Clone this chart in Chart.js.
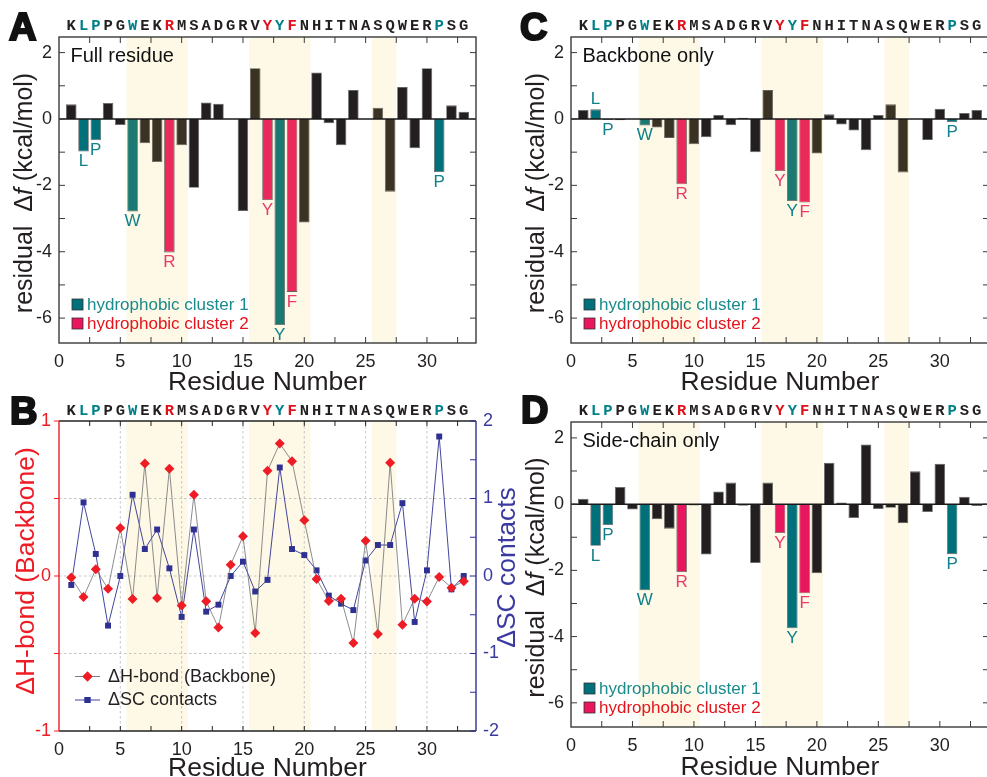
<!DOCTYPE html>
<html><head><meta charset="utf-8">
<script src="https://cdn.jsdelivr.net/npm/chart.js@4"></script>
<style>
html,body{margin:0;padding:0;background:#fff;overflow:hidden;}
#wrap{position:relative;width:987px;height:777px;overflow:hidden;background:#fff;}
canvas{position:absolute;left:0;top:0;}
</style></head><body>
<div id="wrap">
<canvas id="cA" width="1000" height="777"></canvas>
<canvas id="cB" width="1000" height="777"></canvas>
<canvas id="cC" width="1000" height="777"></canvas>
<canvas id="cD" width="1000" height="777"></canvas>
</div>
<script>
// ---------------- DATA ----------------
const residues = [1,2,3,4,5,6,7,8,9,10,11,12,13,14,15,16,17,18,19,20,21,22,23,24,25,26,27,28,29,30,31,32,33];
const sequence = ['K','L','P','P','G','W','E','K','R','M','S','A','D','G','R','V','Y','Y','F','N','H','I','T','N','A','S','Q','W','E','R','P','S','G'];
const cluster1 = [2,3,6,18,31];
const cluster2 = [9,17,19];
const shadedRegions = [[5.5,10.5],[15.5,20.5],[25.5,27.5]];
const fullResidue = [0.44,-0.98,-0.64,0.48,-0.18,-2.79,-0.73,-1.30,-4.02,-0.79,-2.07,0.50,0.46,null,-2.77,1.53,-2.44,-6.21,-5.21,-3.12,1.40,-0.13,-0.79,0.87,null,0.34,-2.19,0.96,-0.88,1.53,-1.60,0.41,0.22];
const backboneOnly = [0.27,0.29,-0.03,-0.04,null,-0.20,-0.26,-0.57,-1.97,-0.76,-0.55,0.12,-0.19,0.04,-1.00,0.87,-1.57,-2.47,-2.52,-1.04,0.14,-0.17,-0.35,-0.94,0.12,0.44,-1.61,null,-0.63,0.31,-0.09,0.18,0.27];
const sideChainOnly = [0.16,-1.26,-0.63,0.52,-0.16,-2.60,-0.46,-0.74,-2.05,-0.04,-1.52,0.38,0.65,-0.05,-1.78,0.65,-0.87,-3.75,-2.69,-2.09,1.25,0.05,-0.42,1.80,-0.15,-0.11,-0.58,0.99,-0.24,1.22,-1.51,0.22,-0.06];
const hbondBackbone = [-0.01,-0.135,0.043,-0.082,0.31,-0.148,0.726,-0.142,0.692,-0.19,0.524,-0.163,-0.333,0.073,0.256,-0.367,0.679,0.855,0.741,0.359,-0.019,-0.161,-0.146,-0.432,0.228,-0.374,0.730,-0.314,-0.146,-0.165,-0.006,-0.075,-0.034];
const scContacts = [-0.116,0.95,0.284,-0.64,0,1.048,0.348,0.60,0.099,-0.528,0.60,-0.46,-0.37,0,0.185,-0.20,-0.05,1.40,0.348,0.27,0.073,-0.253,-0.357,-0.44,0.20,0.40,0.40,0.94,-0.593,0.073,1.80,-0.172,0];
const xTickLabels = [0,5,10,15,20,25,30];
const dfTickLabels = [2,0,-2,-4,-6];
const hbondTickLabels = [1,0,-1];
const scTickLabels = [2,1,0,-1,-2];
const legendLabels = ['hydrophobic cluster 1','hydrophobic cluster 2'];
const lineLegendLabels = ['\u0394H-bond (Backbone)','\u0394SC contacts'];

// ---------------- STYLE / LAYOUT ----------------
const W = 1000, H = 777;
const FONT = "'Liberation Sans', Arial, Helvetica, sans-serif";
const MONO = "'Liberation Mono', 'Courier New', monospace";
const C = {
  black:'#231f20', olive:'#3a3223', teal:'#00707b', tealS:'#1b7971', pink:'#e8175d', pinkS:'#e92a5a',
  cream:'#fef8e6', tealTxt:'#10808a', pinkTxt:'#ea3a6b', legTeal:'#1a8a8c', legRed:'#e3141c',
  seqTeal:'#00808a', seqRed:'#e0101a', red:'#ee1c25', blue:'#2e3192', blueTxt:'#3a3aa0', gray:'#6d6e71'
};

function inShade(r){ return shadedRegions.some(([s,e]) => r > s && r < e); }
function seqColor(r){ return cluster1.includes(r) ? C.seqTeal : (cluster2.includes(r) ? C.seqRed : C.black); }

function drawRot(ctx, parts, x, yc, color){
  ctx.save();
  ctx.translate(x, yc); ctx.rotate(-Math.PI/2);
  let total = 0;
  parts.forEach(p => { ctx.font = p.f; p.w = ctx.measureText(p.t).width; total += p.w; });
  let cx = -total/2;
  ctx.fillStyle = color; ctx.textBaseline = 'alphabetic'; ctx.textAlign = 'left';
  parts.forEach(p => { ctx.font = p.f; ctx.fillText(p.t, cx, 0); cx += p.w; });
  ctx.restore();
}

function drawCommon(chart, p){
  const ctx = chart.ctx, xs = chart.scales.x, a = chart.chartArea;
  ctx.save();
  // sequence letters
  ctx.font = 'bold 15.5px ' + MONO; ctx.textAlign = 'center'; ctx.textBaseline = 'alphabetic';
  residues.forEach((r,i) => { ctx.fillStyle = seqColor(r); ctx.fillText(sequence[i], xs.getPixelForValue(r), p.seqY); });
  // panel letter
  ctx.font = 'bold 38px ' + FONT; ctx.textAlign = 'left'; ctx.fillStyle = '#111'; ctx.strokeStyle = '#111'; ctx.lineWidth = 2.2;
  ctx.fillText(p.letter, p.letterX, p.letterY); ctx.strokeText(p.letter, p.letterX, p.letterY);
  // x title
  ctx.font = '26.5px ' + FONT; ctx.textAlign = 'center'; ctx.fillStyle = C.black;
  ctx.fillText('Residue Number', (a.left + a.right)/2, p.xTitleY);
  ctx.restore();
}

function xTicks(ctx, xs, a, len){
  for (let v = 2.5; v < 34; v += 2.5){
    const x = xs.getPixelForValue(v);
    ctx.beginPath(); ctx.moveTo(x, a.bottom); ctx.lineTo(x, a.bottom - len); ctx.stroke();
    ctx.beginPath(); ctx.moveTo(x, a.top); ctx.lineTo(x, a.top + len); ctx.stroke();
  }
}

function barPanel(id, p){
  const plugin = {
    id: 'bp' + p.letter,
    beforeDatasetsDraw(chart){
      const ctx = chart.ctx, xs = chart.scales.x, a = chart.chartArea;
      ctx.save(); ctx.fillStyle = C.cream;
      shadedRegions.forEach(([s,e]) => { const x0 = xs.getPixelForValue(s), x1 = xs.getPixelForValue(e); ctx.fillRect(x0, a.top, x1-x0, a.bottom-a.top); });
      ctx.restore();
    },
    afterDatasetsDraw(chart){
      const ctx = chart.ctx, xs = chart.scales.x, ys = chart.scales.y, a = chart.chartArea;
      ctx.save();
      // zero line
      ctx.strokeStyle = '#1a1a1a'; ctx.lineWidth = 1.5;
      const y0 = ys.getPixelForValue(0);
      ctx.beginPath(); ctx.moveTo(a.left, y0); ctx.lineTo(a.right, y0); ctx.stroke();
      // frame
      ctx.strokeStyle = '#3a3a3a'; ctx.lineWidth = 1.4;
      ctx.strokeRect(a.left, a.top, a.right - a.left, a.bottom - a.top);
      ctx.lineWidth = 1;
      xTicks(ctx, xs, a, 6);
      for (let v = -6; v <= 2; v++){
        const y = ys.getPixelForValue(v);
        ctx.beginPath(); ctx.moveTo(a.left, y); ctx.lineTo(a.left + 6, y); ctx.stroke();
        ctx.beginPath(); ctx.moveTo(a.right, y); ctx.lineTo(a.right - 6, y); ctx.stroke();
      }
      // bar letter labels
      const meta = chart.getDatasetMeta(0);
      ctx.font = '17px ' + FONT; ctx.textAlign = 'center'; ctx.textBaseline = 'middle';
      residues.forEach((r,i) => {
        if (!cluster1.includes(r) && !cluster2.includes(r)) return;
        const el = meta.data[i]; const v = p.values[i];
        ctx.fillStyle = cluster1.includes(r) ? C.tealTxt : C.pinkTxt;
        const yy = (v > 0) ? el.y - 10 : Math.max(el.y, y0) + 10;
        ctx.fillText(sequence[i], el.x, yy);
      });
      // note
      ctx.font = '20px ' + FONT; ctx.textAlign = 'left'; ctx.textBaseline = 'alphabetic'; ctx.fillStyle = '#111';
      ctx.fillText(p.note, a.left + 11.5, a.top + 24.5);
      // legend
      const lx = a.left + 13;
      [[C.teal, C.legTeal, -38.5], [C.pink, C.legRed, -19.5]].forEach((s, k) => {
        const cy = a.bottom + s[2];
        ctx.fillStyle = s[0]; ctx.fillRect(lx, cy - 5.5, 11, 11);
        ctx.strokeStyle = '#333'; ctx.lineWidth = 0.8; ctx.strokeRect(lx, cy - 5.5, 11, 11);
        ctx.font = '17px ' + FONT; ctx.fillStyle = s[1]; ctx.textBaseline = 'middle';
        ctx.fillText(legendLabels[k], lx + 15, cy + 0.5);
      });
      // y title
      drawRot(ctx, [{t:'residual  \u0394', f:'25px '+FONT}, {t:'f', f:'italic 25px '+FONT}, {t:' (kcal/mol)', f:'25px '+FONT}], a.left - 27, (a.top + a.bottom)/2 + 3, C.black);
      ctx.restore();
      drawCommon(chart, p);
    }
  };
  const colors = residues.map((r) => {
    const sh = p.tint && inShade(r);
    if (cluster1.includes(r)) return sh ? C.tealS : C.teal;
    if (cluster2.includes(r)) return sh ? C.pinkS : C.pink;
    return sh ? C.olive : C.black;
  });
  const a = p.area;
  return new Chart(document.getElementById(id), {
    type: 'bar',
    data: { datasets: [{ data: residues.map((r,i) => ({x:r, y:p.values[i]})), backgroundColor: colors,
      borderColor: 'rgba(70,70,70,0.85)', borderWidth: 0.8, borderSkipped: 'start', barPercentage: 0.86, categoryPercentage: 1 }] },
    options: {
      responsive: false, animation: false, devicePixelRatio: 1,
      layout: { padding: { left: 0, right: W - a.r, top: a.t, bottom: 0 } },
      plugins: { legend: {display:false}, tooltip: {enabled:false} },
      scales: {
        x: { type:'linear', min:0, max:34, offset:false, grid:{display:false, drawTicks:false}, border:{display:false},
             afterBuildTicks: s => { s.ticks = xTickLabels.map(v => ({value:v})); },
             afterFit: s => { s.height = H - a.b; },
             ticks:{ autoSkip:false, maxRotation:0, padding:8, color:C.black, font:{family:FONT, size:18}, callback: v => String(v) } },
        y: { type:'linear', min:p.yMin, max:p.yMax, grid:{display:false, drawTicks:false}, border:{display:false},
             afterBuildTicks: s => { s.ticks = dfTickLabels.map(v => ({value:v})); },
             afterFit: s => { s.width = a.l; },
             ticks:{ autoSkip:false, padding:7, color:C.black, font:{family:FONT, size:18}, callback: v => String(v) } }
      }
    },
    plugins: [plugin]
  });
}

barPanel('cA', { letter:'A', letterX:9, letterY:40, seqY:30, xTitleY:390, values: fullResidue, tint:true, note:'Full residue',
  area:{l:59, r:476, t:37, b:343}, yMin:-6.75, yMax:2.47 });
barPanel('cC', { letter:'C', letterX:520, letterY:40, seqY:30, xTitleY:390, values: backboneOnly, tint:true, note:'Backbone only',
  area:{l:571, r:989, t:37, b:343}, yMin:-6.75, yMax:2.47 });
barPanel('cD', { letter:'D', letterX:521, letterY:423, seqY:415, xTitleY:775, values: sideChainOnly, tint:false, note:'Side-chain only',
  area:{l:571, r:989, t:422, b:727}, yMin:-6.73, yMax:2.48 });

// ---------------- PANEL B ----------------
(function(){
  const a = {l:59, r:476, t:421, b:731};
  const p = { letter:'B', letterX:10, letterY:424, seqY:415, xTitleY:776 };
  const plugin = {
    id:'bpB',
    beforeDatasetsDraw(chart){
      const ctx = chart.ctx, xs = chart.scales.x, ys = chart.scales.y, ar = chart.chartArea;
      ctx.save(); ctx.fillStyle = C.cream;
      shadedRegions.forEach(([s,e]) => { const x0 = xs.getPixelForValue(s), x1 = xs.getPixelForValue(e); ctx.fillRect(x0, ar.top, x1-x0, ar.bottom-ar.top); });
      ctx.strokeStyle = '#b8b8b8'; ctx.lineWidth = 0.8; ctx.setLineDash([2.5,2.5]);
      [5,10,15,20,25,30].forEach(v => { const x = xs.getPixelForValue(v); ctx.beginPath(); ctx.moveTo(x, ar.top); ctx.lineTo(x, ar.bottom); ctx.stroke(); });
      [0.5,0,-0.5].forEach(v => { const y = ys.getPixelForValue(v); ctx.beginPath(); ctx.moveTo(ar.left, y); ctx.lineTo(ar.right, y); ctx.stroke(); });
      ctx.restore();
    },
    afterDatasetsDraw(chart){
      const ctx = chart.ctx, xs = chart.scales.x, ys = chart.scales.y, y2 = chart.scales.y2, ar = chart.chartArea;
      ctx.save();
      ctx.lineWidth = 1.4;
      ctx.strokeStyle = '#222';
      ctx.beginPath(); ctx.moveTo(ar.left, ar.top); ctx.lineTo(ar.right, ar.top); ctx.stroke();
      ctx.beginPath(); ctx.moveTo(ar.left, ar.bottom); ctx.lineTo(ar.right, ar.bottom); ctx.stroke();
      ctx.strokeStyle = C.red; ctx.beginPath(); ctx.moveTo(ar.left, ar.top); ctx.lineTo(ar.left, ar.bottom); ctx.stroke();
      ctx.strokeStyle = C.blue; ctx.beginPath(); ctx.moveTo(ar.right, ar.top); ctx.lineTo(ar.right, ar.bottom); ctx.stroke();
      ctx.lineWidth = 1;
      ctx.strokeStyle = '#222'; xTicks(ctx, xs, ar, 5);
      ctx.strokeStyle = C.red;
      for (let v = -1; v <= 1; v += 0.5){ const y = ys.getPixelForValue(v); ctx.beginPath(); ctx.moveTo(ar.left, y); ctx.lineTo(ar.left - 5, y); ctx.stroke(); }
      ctx.strokeStyle = C.blue;
      for (let v = -2; v <= 2; v += 0.5){ const y = y2.getPixelForValue(v); ctx.beginPath(); ctx.moveTo(ar.right, y); ctx.lineTo(ar.right - 6, y); ctx.stroke(); }
      // legend
      const lx0 = 75, lx1 = 100, tx = 108;
      [[C.gray, C.red, 'rectRot', 676.5, 5], [C.blue, C.blue, 'rect', 700, 4.2]].forEach((s,k) => {
        ctx.strokeStyle = s[0]; ctx.lineWidth = 0.9;
        ctx.beginPath(); ctx.moveTo(lx0, s[3]); ctx.lineTo(lx1, s[3]); ctx.stroke();
        ctx.fillStyle = s[1];
        Chart.helpers.drawPoint(ctx, {pointStyle:s[2], radius:s[4], borderWidth:0, rotation:0}, (lx0+lx1)/2, s[3]);
        ctx.fill();
        ctx.font = '18px ' + FONT; ctx.fillStyle = C.black; ctx.textAlign = 'left'; ctx.textBaseline = 'middle';
        ctx.fillText(lineLegendLabels[k], tx, s[3] + 0.5);
      });
      drawRot(ctx, [{t:'\u0394H-bond (Backbone)', f:'26.5px '+FONT}], 34, 571, C.red);
      drawRot(ctx, [{t:'\u0394SC contacts', f:'26.5px '+FONT}], 515, 567.5, C.blueTxt);
      ctx.restore();
      drawCommon(chart, p);
    }
  };
  new Chart(document.getElementById('cB'), {
    type: 'line',
    data: { datasets: [
      { data: residues.map((r,i) => ({x:r, y:hbondBackbone[i]})), yAxisID:'y', borderColor:C.gray, borderWidth:0.8, tension:0,
        pointStyle:'rectRot', pointRadius:5, pointBackgroundColor:C.red, pointBorderColor:C.red, pointBorderWidth:0 },
      { data: residues.map((r,i) => ({x:r, y:scContacts[i]})), yAxisID:'y2', borderColor:C.blue, borderWidth:0.9, tension:0,
        pointStyle:'rect', pointRadius:4.2, pointBackgroundColor:C.blue, pointBorderColor:C.blue, pointBorderWidth:0 }
    ]},
    options: {
      responsive:false, animation:false, devicePixelRatio:1,
      layout:{ padding:{ left:0, right:0, top:a.t, bottom:0 } },
      plugins:{ legend:{display:false}, tooltip:{enabled:false} },
      scales:{
        x:{ type:'linear', min:0, max:34, offset:false, grid:{display:false, drawTicks:false}, border:{display:false},
            afterBuildTicks: s => { s.ticks = xTickLabels.map(v => ({value:v})); },
            afterFit: s => { s.height = H - a.b; },
            ticks:{ autoSkip:false, maxRotation:0, padding:8, color:C.black, font:{family:FONT, size:18}, callback: v => String(v) } },
        y:{ type:'linear', position:'left', min:-1, max:1, grid:{display:false, drawTicks:false}, border:{display:false},
            afterBuildTicks: s => { s.ticks = hbondTickLabels.map(v => ({value:v})); },
            afterFit: s => { s.width = a.l; },
            ticks:{ autoSkip:false, padding:8, color:C.red, font:{family:FONT, size:18}, callback: v => String(v) } },
        y2:{ type:'linear', position:'right', min:-2, max:2, grid:{display:false, drawTicks:false}, border:{display:false},
            afterBuildTicks: s => { s.ticks = scTickLabels.map(v => ({value:v})); },
            afterFit: s => { s.width = W - a.r; },
            ticks:{ autoSkip:false, padding:7, color:C.blueTxt, font:{family:FONT, size:18}, callback: v => String(v) } }
      }
    },
    plugins:[plugin]
  });
})();
</script>
</body></html>
